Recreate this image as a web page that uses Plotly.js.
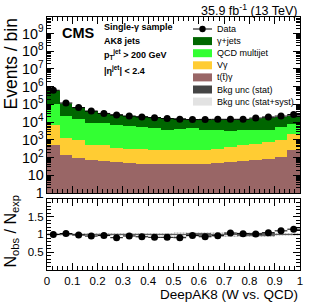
<!DOCTYPE html>
<html><head><meta charset="utf-8">
<script src="https://cdn.plot.ly/plotly-3.0.1.min.js"></script>
<style>html,body{margin:0;padding:0;background:#fff}</style>
</head><body>
<div id="chart" style="width:316px;height:303px"></div>
<script>
// Bin centers of DeepAK8 (W vs. QCD), 20 bins of width 0.05
const binCenters = [0.025,0.075,0.125,0.175,0.225,0.275,0.325,0.375,0.425,0.475,0.525,0.575,0.625,0.675,0.725,0.775,0.825,0.875,0.925,0.975];
const dataCounts = [630000,120000,66000,42000,31000,25000,22000,19600,18000,16000,14500,14000,14000,14500,14500,14500,17000,19600,22000,27000];
const gammaJets = [528000,95600,52900,35100,23100,20900,17100,15600,14900,13600,11600,9700,11500,11200,10800,10700,13300,15200,14600,15200];
const qcdMultijet = [95700,20000,13200,8420,8420,6260,5560,5080,4400,3550,4110,4410,3190,3490,2760,2980,2850,2710,4350,6030];
const vGamma = [6070,1210,855,419,425,291,272,249,236,211,211,223,236,260,342,425,539,672,916,2030];
const ttGamma = [537,135,100,71,65,56,52,46,46,46,46,46,46,49,56,65,78,87,107,257];
const statRelUnc = [0.025,0.025,0.025,0.025,0.025,0.025,0.025,0.025,0.025,0.025,0.025,0.03,0.03,0.025,0.025,0.03,0.03,0.03,0.025,0.025];
const totRelUnc = [0.05,0.05,0.05,0.05,0.05,0.05,0.05,0.05,0.05,0.05,0.06,0.08,0.08,0.06,0.06,0.07,0.07,0.07,0.05,0.04];
const xTickVals = [0,0.1,0.2,0.3,0.4,0.5,0.6,0.7,0.8,0.9,1];
const xTickText = ['0','0.1','0.2','0.3','0.4','0.5','0.6','0.7','0.8','0.9','1'];
const ratioTickVals = [0.5,1,1.5];
const ratioTickText = ['0.5','1','1.5'];

const colGJ = '#006600', colQCD = '#33ff33', colVG = '#ffcc33', colTT = '#996666';

// cumulative stacks (drawn in overlay, largest first)
const cTT = ttGamma.slice();
const cVG = cTT.map((v,i)=>v+vGamma[i]);
const cQCD = cVG.map((v,i)=>v+qcdMultijet[i]);
const cTot = cQCD.map((v,i)=>v+gammaJets[i]);
const ratio = dataCounts.map((v,i)=>v/cTot[i]);

const FONT = 'Liberation Sans, Arial, Helvetica, sans-serif';
const W = 0.05;
function bar(y, color, xa, ya){
  return {type:'bar', x:binCenters, y:y, width:W, xaxis:xa, yaxis:ya,
    marker:{color:color, line:{width:0}}, showlegend:false, hoverinfo:'skip'};
}
const traces = [
  bar(cTot, colGJ, 'x', 'y'),
  bar(cQCD, colQCD, 'x', 'y'),
  bar(cVG, colVG, 'x', 'y'),
  bar(cTT, colTT, 'x', 'y'),
  {type:'bar', x:binCenters, base:cTot.map((v,i)=>v*(1-totRelUnc[i])), y:cTot.map((v,i)=>2*v*totRelUnc[i]),
   width:W, xaxis:'x', yaxis:'y', marker:{color:'rgba(200,200,200,0.6)', line:{width:0}}, showlegend:false, hoverinfo:'skip'},
  {type:'bar', x:binCenters, base:cTot.map((v,i)=>v*(1-statRelUnc[i])), y:cTot.map((v,i)=>2*v*statRelUnc[i]),
   width:W, xaxis:'x', yaxis:'y', marker:{color:'rgba(70,70,70,0.85)', line:{width:0}}, showlegend:false, hoverinfo:'skip'},
  {type:'scatter', mode:'markers', x:binCenters, y:dataCounts, xaxis:'x', yaxis:'y',
   marker:{color:'black', size:7}, error_x:{type:'constant', value:W/2, color:'black', thickness:1, width:0},
   showlegend:false, hoverinfo:'skip'},
  // ratio panel bands
  {type:'bar', x:binCenters, base:totRelUnc.map(e=>1-e), y:totRelUnc.map(e=>2*e), width:W, xaxis:'x2', yaxis:'y2',
   marker:{color:'rgba(0,0,0,0)', line:{width:0}, pattern:{shape:'.', fgcolor:'#b0b0b0', bgcolor:'rgba(235,235,235,0.6)', size:3, solidity:0.4}},
   showlegend:false, hoverinfo:'skip'},
  {type:'bar', x:binCenters, base:statRelUnc.map(e=>1-e), y:statRelUnc.map(e=>2*e), width:W, xaxis:'x2', yaxis:'y2',
   marker:{color:'rgba(80,80,80,0.85)', line:{width:0}}, showlegend:false, hoverinfo:'skip'},
  {type:'scatter', mode:'markers', x:binCenters, y:ratio, xaxis:'x2', yaxis:'y2',
   marker:{color:'black', size:7}, error_x:{type:'constant', value:W/2, color:'black', thickness:1, width:0},
   showlegend:false, hoverinfo:'skip'}
];

// pixel -> paper helpers (plot area: x 47..300, y 17..270)
const px = v => (v-47)/253;
const py = v => (270-v)/253;

const shapes = [
  {type:'line', xref:'x2', yref:'y2', x0:0, x1:1, y0:1, y1:1, line:{color:'#555', width:1}, layer:'below'}
];
const legendItems = [
  {label:'Data', kind:'data'},
  {label:'γ+jets', color:colGJ},
  {label:'QCD multijet', color:colQCD},
  {label:'Vγ', color:colVG},
  {label:'t(t\u0304)γ', color:colTT},
  {label:'Bkg unc (stat)', color:'#444444'},
  {label:'Bkg unc (stat+syst)', color:'#e2e2e2'}
];
const annotations = [];
legendItems.forEach((it,i)=>{
  const yc = 29 + 12.1*i;
  if(it.kind==='data'){
    shapes.push({type:'line', xref:'paper', yref:'paper', x0:px(193), x1:px(212), y0:py(yc), y1:py(yc), line:{color:'black', width:1}});
    shapes.push({type:'circle', xref:'paper', yref:'paper', x0:px(199.3), x1:px(205.7), y0:py(yc+3.2), y1:py(yc-3.2), fillcolor:'black', line:{width:0}});
  } else {
    shapes.push({type:'rect', xref:'paper', yref:'paper', x0:px(193), x1:px(212), y0:py(yc+4), y1:py(yc-4), fillcolor:it.color, line:{width:0}});
  }
  annotations.push({xref:'paper', yref:'paper', x:px(215), y:py(yc), xanchor:'left', yanchor:'middle', showarrow:false,
    text:it.label, font:{family:FONT, size:9, color:'black'}});
});

const txt = (t, x, y, size, opts={}) => Object.assign({xref:'paper', yref:'paper', x:px(x), y:py(y), showarrow:false,
  text:t, font:{family:FONT, size:size, color:'black'}, xanchor:'left', yanchor:'middle'}, opts);

annotations.push(
  txt('<b>CMS</b>', 60, 33, 14.5),
  txt('<b>Single-γ sample</b>', 102, 27.3, 9),
  txt('<b>AK8 jets</b>', 102, 41, 9),
  txt('<b>p<sub>T</sub><sup>jet</sup> &gt; 200 GeV</b>', 102, 54.5, 9),
  txt('<b>|η<sup>jet</sup>| &lt; 2.4</b>', 102, 70, 9),
  txt('35.9 fb<sup>-1</sup> (13 TeV)', 300, 10, 12.5, {xanchor:'right'}),
  txt('DeepAK8 (W vs. QCD)', 300, 294, 13.5, {xanchor:'right'}),
  txt('Events / bin', 10, 17, 17.5, {xanchor:'center', yanchor:'top', textangle:-90}),
  txt('N<sub>obs</sub> / N<sub>exp</sub>', 11, 193, 16, {xanchor:'center', yanchor:'top', textangle:-90})
);

const axBase = {showline:true, linecolor:'black', linewidth:1, mirror:'allticks', ticks:'inside',
  tickcolor:'black', showgrid:false, zeroline:false, tickfont:{family:FONT, size:11.5, color:'black'}};

const layout = {
  width:316, height:303, margin:{l:47, r:16, t:17, b:33},
  paper_bgcolor:'white', plot_bgcolor:'white', barmode:'overlay', bargap:0, showlegend:false,
  xaxis:Object.assign({}, axBase, {domain:[0,1], anchor:'y', range:[0,1], tickvals:xTickVals, ticklen:7,
    minor:{ticks:'inside', ticklen:4, dtick:0.02, tickcolor:'black'}, showticklabels:false}),
  yaxis:Object.assign({}, axBase, {domain:[0.304,1], anchor:'x', type:'log', range:[0,9.93], dtick:1,
    exponentformat:'power', ticklen:7, minor:{ticks:'inside', ticklen:4, dtick:'D1', tickcolor:'black'}}),
  xaxis2:Object.assign({}, axBase, {domain:[0,1], anchor:'y2', range:[0,1], tickvals:xTickVals, ticktext:xTickText, ticklen:7,
    minor:{ticks:'inside', ticklen:4, dtick:0.02, tickcolor:'black'}, matches:'x'}),
  yaxis2:Object.assign({}, axBase, {domain:[0,0.281], anchor:'x2', range:[0,2], tickvals:ratioTickVals, ticktext:ratioTickText, ticklen:7,
    minor:{ticks:'inside', ticklen:4, dtick:0.1, tickcolor:'black'}}),
  shapes:shapes, annotations:annotations
};

Plotly.newPlot('chart', traces, layout, {staticPlot:true, displayModeBar:false});
</script>
</body></html>
